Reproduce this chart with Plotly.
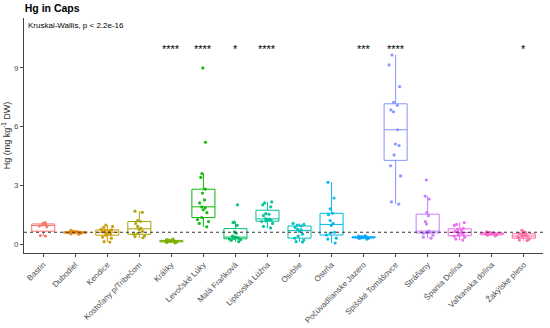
import plotly.graph_objects as go

sites = ["Bastin", "Dubodiel", "Kendice", "Kostoľany p/Tribečom", "Králiky",
         "Levočské Lúky", "Malá Fraňková", "Liptovská Lúžna", "Osrblie", "Ostrňa",
         "Počúvadlianske Jazero", "Spišské Tomášovce", "Stráňany", "Špania Dolina",
         "Vaľkanska dolina", "Žakýlske pleso"]

bastin = [0.41, 0.43, 0.88, 0.92, 0.97, 1.0, 1.05, 1.1]
dubodiel = [0.5, 0.52, 0.55, 0.57, 0.58, 0.6, 0.62, 0.63, 0.65, 0.7]
kendice = [0.1, 0.12, 0.3, 0.35, 0.45, 0.5, 0.55, 0.58, 0.6, 0.62, 0.65, 0.7, 0.72, 0.75, 0.85, 0.9, 0.97]
kostolany = [0.32, 0.38, 0.42, 0.5, 0.55, 0.65, 0.75, 0.8, 0.9, 1.05, 1.15, 1.2, 1.62, 1.68]
kraliky = [0.05, 0.08, 0.1, 0.12, 0.13, 0.14, 0.15, 0.17, 0.2, 0.22, 0.25]
levocske = [0.88, 1.05, 1.15, 1.25, 1.35, 1.6, 1.75, 1.85, 1.9, 2.1, 2.25, 2.6, 2.8, 3.4, 3.6, 5.2, 9.0]
mala_frankova = [0.12, 0.18, 0.22, 0.25, 0.28, 0.3, 0.32, 0.34, 0.36, 0.4, 0.55, 0.62, 0.95, 1.1, 1.12, 2.0]
liptovska = [0.82, 0.9, 1.05, 1.15, 1.18, 1.22, 1.25, 1.27, 1.3, 1.45, 1.52, 1.55, 1.9, 2.0, 2.1, 2.15]
osrblie = [0.1, 0.12, 0.2, 0.3, 0.4, 0.5, 0.65, 0.72, 0.75, 0.85, 0.92, 0.97, 1.0, 1.05]
ostrna = [0.05, 0.25, 0.3, 0.46, 0.55, 0.6, 0.95, 1.05, 1.2, 1.5, 1.57, 1.8, 2.35, 3.15]
pocuvadlianske = [0.25, 0.28, 0.3, 0.32, 0.33, 0.34, 0.35, 0.36, 0.38, 0.4, 0.42]
spisske = [2.04, 2.15, 3.48, 4.0, 4.55, 5.03, 5.11, 5.84, 6.76, 6.85, 7.09, 7.24, 8.04, 9.15, 9.66]
stranany = [0.3, 0.35, 0.45, 0.55, 0.58, 0.6, 0.62, 0.66, 1.02, 1.14, 1.45, 1.6, 2.3, 2.45, 3.27]
spania = [0.2, 0.25, 0.35, 0.4, 0.45, 0.5, 0.55, 0.58, 0.6, 0.65, 0.7, 0.75, 0.8, 0.95, 1.0, 1.1]
valkanska = [0.42, 0.45, 0.47, 0.5, 0.52, 0.53, 0.55, 0.57, 0.6, 0.62]
zakylske = [0.18, 0.2, 0.25, 0.35, 0.38, 0.4, 0.42, 0.45, 0.5, 0.55, 0.6, 0.7]

values = [bastin, dubodiel, kendice, kostolany, kraliky, levocske, mala_frankova,
          liptovska, osrblie, ostrna, pocuvadlianske, spisske, stranany, spania,
          valkanska, zakylske]

significance = ["", "", "", "", "****", "****", "*", "****", "", "",
                "***", "****", "", "", "", "*"]
reference_level = 0.6
y_ticks = [0, 3, 6, 9]

colors = ["#F8766D", "#E68613", "#CD9600", "#ABA300", "#7CAE00", "#0CB702",
          "#00BE67", "#00C19A", "#00BFC4", "#00B8E7", "#00A9FF", "#8494FF",
          "#C77CFF", "#ED68ED", "#FF61CC", "#FF68A1"]

fig = go.Figure()
for name, vals, col in zip(sites, values, colors):
    fig.add_trace(go.Box(
        x=[name] * len(vals), y=vals, name=name,
        boxpoints="all", jitter=0.6, pointpos=0, quartilemethod="inclusive",
        line=dict(color=col, width=1),
        fillcolor="rgba(255,255,255,0)",
        marker=dict(color=col, size=3.2, opacity=0.95),
        width=0.72, whiskerwidth=0, showlegend=False,
    ))

fig.add_hline(y=reference_level, line=dict(color="#333333", width=1, dash="3px,3px"))

for name, s in zip(sites, significance):
    if s:
        fig.add_annotation(x=name, y=9.95, text=s, showarrow=False,
                           font=dict(size=11, color="black"), yanchor="middle")

fig.add_annotation(xref="paper", yref="paper", x=0.004, y=0.968, xanchor="left",
                   yanchor="middle", text="Kruskal-Wallis, p < 2.2e-16",
                   showarrow=False, font=dict(size=8, color="black"))

fig.update_layout(
    width=550, height=328,
    margin=dict(l=24, r=7, t=18, b=75),
    paper_bgcolor="white", plot_bgcolor="white",
    font=dict(family="Arial, Liberation Sans, sans-serif", size=8, color="#4D4D4D"),
    title=dict(text="<b>Hg in Caps</b>", x=0.045, xanchor="left", y=0.975, yanchor="middle",
               font=dict(size=10.5, color="black")),
    xaxis=dict(type="category", categoryorder="array", categoryarray=sites,
               range=[-0.6, len(sites) - 0.4], tickangle=-45, automargin=False,
               showline=True, linecolor="#444444", linewidth=1,
               ticks="outside", ticklen=3, tickcolor="#444444",
               showgrid=False, zeroline=False, tickfont=dict(size=8, color="#4D4D4D")),
    yaxis=dict(range=[-0.46, 11.55], tickvals=y_ticks, automargin=False,
               showline=True, linecolor="#444444", linewidth=1,
               ticks="outside", ticklen=3, tickcolor="#444444",
               showgrid=False, zeroline=False,
               title=dict(text="Hg (mg kg<sup>-1</sup> DW)", font=dict(size=9, color="#333333"), standoff=3),
               tickfont=dict(size=8, color="#4D4D4D")),
)

fig.write_html("out.html", config={"displayModeBar": False},
               post_script="document.body.style.margin='0px';")
